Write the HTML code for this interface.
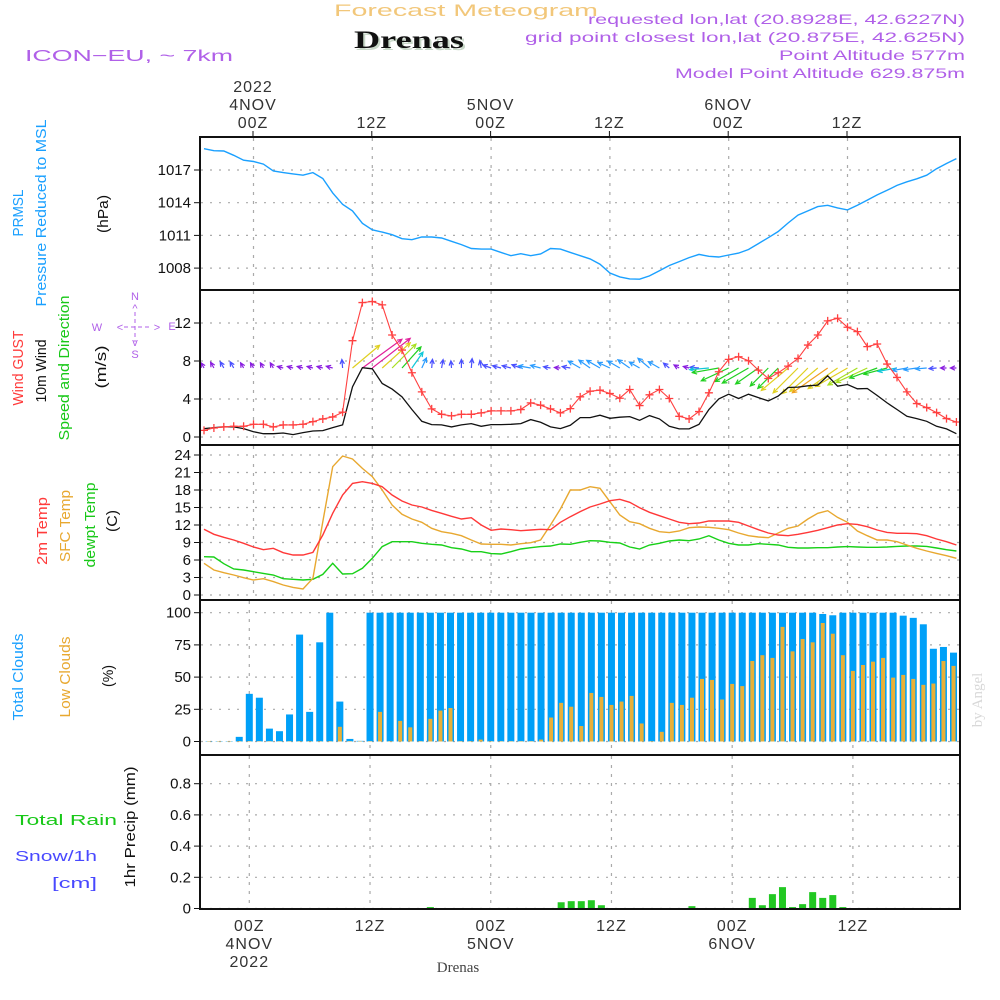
<!DOCTYPE html>
<html><head><meta charset="utf-8"><title>Drenas meteogram</title>
<style>
html,body{margin:0;padding:0;background:#fff;}
svg{display:block;font-family:"Liberation Sans",sans-serif;}
.tk{font-size:15px;fill:#111;text-anchor:end;}
.tl{font-size:16px;fill:#333;text-anchor:middle;letter-spacing:1px;}
.vl{font-size:15px;text-anchor:middle;}
</style></head>
<body>
<svg id="chart" width="1000" height="1000" viewBox="0 0 1000 1000">
<text x="466" y="16" font-size="17" fill="#f2c77a" text-anchor="middle" textLength="264" lengthAdjust="spacingAndGlyphs">Forecast Meteogram</text>
<text x="411" y="50" font-family="Liberation Serif,serif" font-weight="bold" font-size="25" fill="#c8d8c8" text-anchor="middle" textLength="110" lengthAdjust="spacingAndGlyphs">Drenas</text>
<text x="409" y="48" font-family="Liberation Serif,serif" font-weight="bold" font-size="25" fill="#111" text-anchor="middle" textLength="110" lengthAdjust="spacingAndGlyphs">Drenas</text>
<text x="25" y="61" font-size="16" fill="#b060e8" textLength="208" lengthAdjust="spacingAndGlyphs">ICON−EU, ~ 7km</text>
<text x="965" y="24" font-size="14" fill="#b060e8" text-anchor="end" textLength="377" lengthAdjust="spacingAndGlyphs">requested lon,lat (20.8928E, 42.6227N)</text>
<text x="965" y="42" font-size="14" fill="#b060e8" text-anchor="end" textLength="440" lengthAdjust="spacingAndGlyphs">grid point closest lon,lat (20.875E, 42.625N)</text>
<text x="965" y="60" font-size="14" fill="#b060e8" text-anchor="end" textLength="186" lengthAdjust="spacingAndGlyphs">Point Altitude 577m</text>
<text x="965" y="78" font-size="14" fill="#b060e8" text-anchor="end" textLength="290" lengthAdjust="spacingAndGlyphs">Model Point Altitude 629.875m</text>

<g>
<text class="vl" transform="translate(23,213) rotate(-90)" fill="#1aa0ff" textLength="47" lengthAdjust="spacingAndGlyphs">PRMSL</text>
<text class="vl" transform="translate(46,213) rotate(-90)" fill="#1aa0ff" textLength="187" lengthAdjust="spacingAndGlyphs">Pressure Reduced to MSL</text>
<text class="vl" transform="translate(108,214) rotate(-90)" fill="#111" textLength="38" lengthAdjust="spacingAndGlyphs">(hPa)</text>
<text class="vl" transform="translate(23,368) rotate(-90)" fill="#ff3b3b" textLength="75" lengthAdjust="spacingAndGlyphs">Wind GUST</text>
<text class="vl" transform="translate(46,371) rotate(-90)" fill="#111" textLength="63" lengthAdjust="spacingAndGlyphs">10m Wind</text>
<text class="vl" transform="translate(69,368) rotate(-90)" fill="#18c818" textLength="145" lengthAdjust="spacingAndGlyphs">Speed and Direction</text>
<text class="vl" transform="translate(106,367) rotate(-90)" fill="#111" textLength="43" lengthAdjust="spacingAndGlyphs">(m/s)</text>
<g fill="#b060e8" font-size="11" text-anchor="middle">
<text x="135" y="300">N</text><text x="135" y="358">S</text><text x="97" y="331">W</text><text x="172" y="330">E</text>
<text x="120" y="331">&lt;</text><text x="157" y="331">&gt;</text><text x="135" y="312">^</text><text x="135" y="346">v</text>
<line x1="124" y1="327" x2="152" y2="327" stroke="#b060e8" stroke-dasharray="4,3"/>
<line x1="135" y1="312" x2="135" y2="342" stroke="#b060e8" stroke-dasharray="4,3"/>
</g>
<text class="vl" transform="translate(47,531) rotate(-90)" fill="#ff3b3b" textLength="68" lengthAdjust="spacingAndGlyphs">2m Temp</text>
<text class="vl" transform="translate(70,526) rotate(-90)" fill="#e8a830" textLength="72" lengthAdjust="spacingAndGlyphs">SFC Temp</text>
<text class="vl" transform="translate(95,525) rotate(-90)" fill="#18c818" textLength="85" lengthAdjust="spacingAndGlyphs">dewpt Temp</text>
<text class="vl" transform="translate(117,521) rotate(-90)" fill="#111" textLength="22" lengthAdjust="spacingAndGlyphs">(C)</text>
<text class="vl" transform="translate(23,677) rotate(-90)" fill="#1aa0ff" textLength="87" lengthAdjust="spacingAndGlyphs">Total Clouds</text>
<text class="vl" transform="translate(70,677) rotate(-90)" fill="#e8a830" textLength="81" lengthAdjust="spacingAndGlyphs">Low Clouds</text>
<text class="vl" transform="translate(113,676) rotate(-90)" fill="#111" textLength="22" lengthAdjust="spacingAndGlyphs">(%)</text>
<text x="15" y="825" font-size="15" fill="#18c818" textLength="102" lengthAdjust="spacingAndGlyphs">Total  Rain</text>
<text x="15" y="861" font-size="15" fill="#4848ff" textLength="82" lengthAdjust="spacingAndGlyphs">Snow/1h</text>
<text x="52" y="888" font-size="15" fill="#4848ff" textLength="45" lengthAdjust="spacingAndGlyphs">[cm]</text>
<text class="vl" transform="translate(135,827) rotate(-90)" fill="#111" textLength="121" lengthAdjust="spacingAndGlyphs">1hr Precip (mm)</text>
</g>
<text transform="translate(982,700) rotate(-90)" font-family="Liberation Serif,serif" font-size="15" fill="#d8d8d8" text-anchor="middle">by Angel</text>
<text x="458" y="972" font-family="Liberation Serif,serif" font-size="15" fill="#444" text-anchor="middle">Drenas</text>
<g id="plot"></g>
</svg>
<script>
// ---- data (index i = hour offset from -5 for lines, -4 for bars) ----
const pressure = [1018.95,1018.77,1018.74,1018.35,1017.9,1017.78,1017.54,1016.91,1016.76,1016.64,1016.52,1016.76,1016.22,1014.9,1013.85,1013.25,1012.11,1011.51,1011.3,1011.06,1010.7,1010.61,1010.85,1010.85,1010.76,1010.46,1010.16,1009.8,1009.74,1009.74,1009.44,1009.14,1009.32,1009.14,1009.29,1009.8,1009.74,1009.44,1009.14,1008.84,1008.36,1007.55,1007.19,1007.01,1006.98,1007.28,1007.76,1008.24,1008.6,1008.96,1009.26,1009.08,1009.02,1009.2,1009.38,1009.71,1010.25,1010.79,1011.36,1012.14,1012.86,1013.25,1013.64,1013.76,1013.52,1013.34,1013.76,1014.24,1014.72,1015.14,1015.59,1015.92,1016.19,1016.52,1017.12,1017.6,1018.05];
const gust = [0.7,0.95,1.06,1.13,1.13,1.34,1.34,1.06,1.27,1.27,1.34,1.62,1.9,2.11,2.61,10.14,14.15,14.26,13.91,10.74,9.15,6.76,4.75,2.96,2.39,2.22,2.39,2.39,2.54,2.75,2.75,2.75,2.89,3.59,3.35,2.96,2.54,2.99,4.23,4.82,4.93,4.58,4.08,5.0,3.31,4.44,5.0,4.05,2.18,1.9,2.68,4.65,6.87,8.17,8.45,8.03,7.04,6.16,6.76,7.46,8.27,9.68,10.74,12.22,12.5,11.55,11.09,9.51,9.79,7.68,6.27,4.75,3.52,3.1,2.57,1.94,1.58];
const wind = [0.88,0.99,1.06,1.06,0.88,0.56,0.35,0.35,0.42,0.25,0.46,0.63,0.67,0.99,1.27,5.28,7.29,7.18,5.63,5.04,4.23,2.89,1.65,1.3,1.27,1.06,1.27,1.41,1.13,1.3,1.3,1.34,1.41,1.83,1.55,1.06,0.88,1.23,2.04,2.04,2.29,1.97,2.08,2.15,1.76,2.25,1.9,1.13,0.85,0.85,1.34,2.89,4.01,4.51,4.05,4.51,4.15,3.8,4.3,5.21,5.25,5.39,5.46,6.44,5.35,5.53,5.07,5.11,4.37,3.59,2.89,2.18,1.94,1.65,1.13,0.85,0.35];
const windDir = [120,120,120,120,120,120,120,120,165,165,165,165,165,165,95,40,36,38,42,45,48,55,65,85,80,95,90,85,100,160,165,165,160,170,165,170,175,170,150,145,150,155,150,145,150,140,150,140,150,165,175,185,190,205,210,210,215,225,225,220,225,225,220,215,215,210,210,205,200,195,190,190,188,185,185,180,180];
const temp2m = [11.26,10.4,9.89,9.43,8.86,8.23,7.77,8.0,7.26,6.86,6.86,7.31,10.29,14.0,17.14,19.14,19.43,19.14,18.57,17.14,16.11,15.43,15.09,14.51,14.0,13.49,13.03,13.26,12.0,11.09,11.31,11.2,11.03,11.14,11.26,11.2,12.46,13.43,14.29,15.09,15.6,16.17,16.4,15.89,14.97,14.17,13.6,13.03,12.46,12.23,12.34,12.69,12.69,12.69,12.46,11.83,11.2,10.63,10.29,10.17,10.4,10.74,11.09,11.54,12.0,12.23,12.11,11.71,11.14,10.74,10.57,10.57,10.51,10.17,9.6,9.14,8.57];
const sfcTemp = [5.43,4.29,3.83,3.43,2.97,2.57,2.8,2.29,1.71,1.31,1.03,2.86,12.57,22.0,23.83,23.31,21.71,20.29,18.0,15.43,13.83,13.03,12.46,11.43,10.86,10.57,10.17,9.43,8.74,8.69,8.69,8.57,8.8,8.97,9.43,12.0,14.74,18.0,18.0,18.57,18.29,16.0,13.71,12.57,12.23,11.43,10.86,10.69,10.97,11.54,11.66,11.6,11.43,11.2,10.63,10.17,9.94,9.83,10.63,11.43,11.83,13.03,14.0,14.46,13.31,12.46,10.97,10.17,9.43,9.43,9.14,8.57,8.0,7.54,7.14,6.74,6.29];
const dewpt = [6.57,6.51,5.37,4.46,4.29,4.0,3.71,3.43,2.8,2.69,2.57,2.69,3.54,5.43,3.6,3.66,4.57,6.29,8.29,9.14,9.14,9.14,8.86,8.69,8.57,8.11,7.89,7.43,7.43,7.09,7.03,7.43,7.89,8.11,8.29,8.4,8.74,8.69,9.03,9.31,9.26,9.03,8.91,8.23,7.89,8.57,8.86,9.26,9.43,9.31,9.6,10.17,9.43,8.86,8.57,8.57,8.8,8.69,8.57,8.17,8.06,8.06,8.11,8.11,8.23,8.29,8.23,8.17,8.17,8.23,8.34,8.4,8.4,8.34,8.06,7.77,7.54];
const totalClouds = [0.3,0.3,0.3,3.6,37,34,10,8,21,83,23,77,100,31,2,0.5,100,100,100,100,100,100,100,100,100,100,100,100,100,100,100,100,100,100,100,100,100,100,100,100,100,100,100,100,100,100,100,100,100,100,100,100,100,100,100,100,100,100,100,100,100,99,98,100,100,100,100,100,100,97.7,96,91,72,73.4,69,69];
const lowClouds = [0.3,0.3,0.3,0.3,0.3,0.3,0.3,0.3,0.3,0.3,0.3,0.3,0.3,11.4,0.3,0.3,0.3,23,0.3,16,11,0.3,17.6,24,26,0.3,0.3,1.5,0.3,0.3,0.3,0.3,0.3,1.5,18.6,30,27,12,37.7,34.6,28.4,31,35.4,14,0.3,7.5,30,28.4,34,48.6,47.8,32.6,44.7,43,62.5,67,64.9,89,70,79.6,77,92,83.7,67,54.8,59.4,62,64.9,49.6,51.7,48.6,44,45,62.5,58.7,62.5];
const precip = [0,0,0,0,0,0,0,0,0,0,0,0,0,0,0,0,0,0,0,0,0.002,0.002,0.009,0.002,0,0,0,0,0,0,0,0,0,0,0,0.04,0.047,0.047,0.053,0.021,0,0,0,0,0,0,0,0.002,0.015,0,0,0,0,0,0.068,0.021,0.092,0.137,0.009,0.028,0.105,0.068,0.086,0.009,0.002,0.002,0.002,0.002,0.002,0.002,0.002,0.002,0.002,0,0,0];
const pTicks = [1008,1011,1014,1017];
const wTicks = [0,4,8,12];
const tTicks = [0,3,6,9,12,15,18,21,24];
const cTicks = [0,25,50,75,100];
const rTicks = [0,0.2,0.4,0.6,0.8];
const gridHours = [0,12,24,36,48,60];
const topLabels = [["2022","4NOV","00Z"],["","","12Z"],["","5NOV","00Z"],["","","12Z"],["","6NOV","00Z"],["","","12Z"]];
const botLabels = [["00Z","4NOV","2022"],["12Z","",""],["00Z","5NOV",""],["12Z","",""],["00Z","6NOV",""],["12Z","",""]];

// ---- scales ----
const xT = h => 253.5 + 9.9*h;           // top three panels, h = hours from 00Z 4NOV
const xB = h => 249.3 + 10.06*h;         // bottom two panels
const yP = v => 170 + (1017 - v)*10.9;
const yW = v => 437 - v*9.5;
const yT = v => 595 - v*5.833;
const yC = v => 741.5 - v*1.288;
const yR = v => 908.5 - v*156;

const NS = "http://www.w3.org/2000/svg";
const plot = document.getElementById("plot");
function mk(tag, attrs, parent){ const e=document.createElementNS(NS,tag); for(const k in attrs) e.setAttribute(k,attrs[k]); (parent||plot).appendChild(e); return e; }

const panels = [
 {name:"pressure", y0:137, y1:290, ticks:pTicks, ys:yP, xs:xT, fmt:v=>String(v)},
 {name:"wind", y0:290, y1:445, ticks:wTicks, ys:yW, xs:xT, fmt:v=>String(v)},
 {name:"temperature", y0:445, y1:600, ticks:tTicks, ys:yT, xs:xT, fmt:v=>String(v)},
 {name:"clouds", y0:600, y1:755, ticks:cTicks, ys:yC, xs:xB, fmt:v=>String(v)},
 {name:"precip", y0:755, y1:909, ticks:rTicks, ys:yR, xs:xB, fmt:v=>v===0?"0":v.toFixed(1)}
];
const clip = mk("clipPath",{id:"pc"}); mk("rect",{x:200,y:137,width:760,height:772},clip);

panels.forEach(p=>{
  const g = mk("g",{});
  
  
  p.ticks.forEach(t=>{
    const y=p.ys(t);
    const gl = mk("line",{x1:201,x2:959,y1:y,y2:y,stroke:"#aaa","stroke-dasharray":"2,7","stroke-width":1.2},g);
    
    
    const tm = mk("line",{x1:194,x2:200,y1:y,y2:y,stroke:"#111"},g);
    
    
    const tl = mk("text",{x:191,y:y+5,class:"tk"},g);
    tl.textContent = p.fmt(t);
    
    
  });
  gridHours.forEach(h=>{
    const x=p.xs(h);
    const vl = mk("line",{x1:x,x2:x,y1:p.y0+1,y2:p.y1-1,stroke:"#aaa","stroke-dasharray":"3,6","stroke-width":1.2},g);
    
    
  });
  p.g = g;
});

function line(arr, xs, ys, off, color, name, w){
  const d = arr.map((v,i)=>(i?"L":"M")+xs(i+off).toFixed(1)+","+ys(v).toFixed(1)).join("");
  const e = mk("path",{d:d,fill:"none",stroke:color,"stroke-width":w||1.3,"clip-path":"url(#pc)"});
  
  
  return e;
}
line(pressure, xT, yP, -5, "#1aa0ff", "pressure-line", 1.4);

// wind arrows
function windColor(s){ if(s<1) return "#8a1ee0"; if(s<1.5) return "#4a50ff"; if(s<2.5) return "#2a9cff"; if(s<3.5) return "#10c8d8"; if(s<4.6) return "#20d020"; if(s<5.2) return "#a8e020"; if(s<5.8) return "#e0d020"; if(s<6.8) return "#f0a020"; return "#e0209a"; }
const ag = mk("g",{});


wind.forEach((s,i)=>{
  const x0=xT(i-5), y0=368, L=Math.max(6, s*6.7), a=windDir[i]*Math.PI/180;
  const x1=x0+L*Math.cos(a), y1=y0-L*Math.sin(a);
  const c=windColor(s), hl=5;
  const h1=a+Math.PI-0.45, h2=a+Math.PI+0.45;
  const e = mk("path",{d:`M${x0},${y0}L${x1},${y1}M${x1+hl*Math.cos(h1)},${y1-hl*Math.sin(h1)}L${x1},${y1}L${x1+hl*Math.cos(h2)},${y1-hl*Math.sin(h2)}`,stroke:c,fill:"none","stroke-width":1.2},ag);
  
  
});
line(wind, xT, yW, -5, "#111", "wind-speed-line", 1.3);
line(gust, xT, yW, -5, "#ff4040", "wind-gust-line", 1.1);
gust.forEach((v,i)=>{
  const x=xT(i-5), y=yW(v);
  const e = mk("path",{d:`M${x-4},${y}h8M${x},${y-4}v8`,stroke:"#ff4040","stroke-width":1.3});
  
  
});

line(dewpt, xT, yT, -5, "#18d018", "dewpoint-line", 1.4);
line(sfcTemp, xT, yT, -5, "#e8a830", "sfc-temp-line", 1.4);
line(temp2m, xT, yT, -5, "#ff3838", "2m-temp-line", 1.4);

totalClouds.forEach((v,i)=>{
  const x=xB(i-4), y=yC(v);
  const e = mk("rect",{x:x-3.5,y:y,width:7,height:yC(0)-y,fill:"#00a0f8","clip-path":"url(#pc)"});
  
  
});
lowClouds.forEach((v,i)=>{
  const x=xB(i-4), y=yC(v);
  const e = mk("rect",{x:x-2,y:y,width:4,height:yC(0)-y,fill:"#e8b038","clip-path":"url(#pc)"});
  
  
});
precip.forEach((v,i)=>{
  if(v<=0) return;
  const x=xB(i-4), y=yR(v);
  const e = mk("rect",{x:x-3.5,y:y,width:7,height:yR(0)-y,fill:"#22c822","clip-path":"url(#pc)"});
  
  
});

// frames
panels.forEach(p=>{
  const f = mk("rect",{x:200,y:p.y0,width:760,height:p.y1-p.y0,fill:"none",stroke:"#111","stroke-width":2});
  
  
});

// time labels
gridHours.forEach((h,k)=>{
  const xt=xT(h)-0.5;
  const tt = mk("line",{x1:xt,x2:xt,y1:131,y2:137,stroke:"#111"});
  
  
  topLabels[k].forEach((s,r)=>{
    if(!s) return;
    const t = mk("text",{x:xt,y:92+r*18,class:"tl"});
    t.textContent = s;
    
    
  });
  const xb=xB(h);
  botLabels[k].forEach((s,r)=>{
    if(!s) return;
    const t = mk("text",{x:xb,y:931+r*18,class:"tl"});
    t.textContent = s;
    
    
  });
});
</script>
</body></html>
